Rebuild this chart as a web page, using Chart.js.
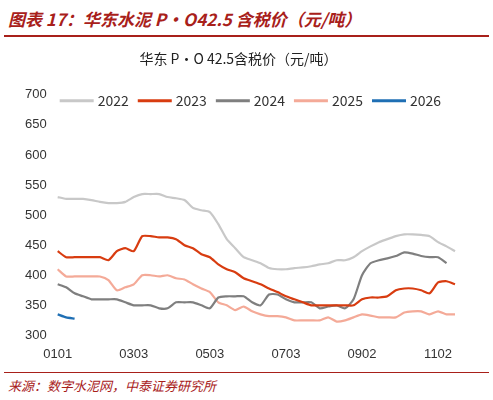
<!DOCTYPE html>
<html><head><meta charset="utf-8">
<script src="https://cdn.jsdelivr.net/npm/chart.js@4"></script>
<style>
body{margin:0;width:493px;height:400px;background:#fff;font-family:"Noto Sans CJK SC",sans-serif;position:relative;overflow:hidden}
#hd{position:absolute;left:8px;top:6px;color:#a8201a;font-size:17px;font-weight:bold;font-style:italic}
#l1{position:absolute;left:4px;right:4px;top:35px;border-top:2px solid #a8201a}
#cw{position:absolute;left:0;top:40px;width:493px;height:325px}
#l2{position:absolute;left:4px;right:4px;top:372px;border-top:1px solid #a8201a}
#src{position:absolute;left:8px;top:376px;color:#a8201a;font-size:13px;font-style:italic}
</style></head><body>
<div id="hd">图表 17：华东水泥 P·O42.5 含税价（元/吨）</div>
<div id="l1"></div>
<div id="cw"><canvas id="c"></canvas></div>
<div id="l2"></div>
<div id="src">来源：数字水泥网，中泰证券研究所</div>
<script>
const tickLabels={0:"0101",9:"0303",18:"0503",27:"0703",36:"0902",45:"1102"};
const categories=Array.from({length:48},(_,i)=>String(i));
const s2022=[530,527,527,527,525,522,520,520,522,530,535,535,535,530,528,525,512,508,505,485,460,445,430,425,420,412,410,410,412,413,415,418,420,425,425,430,440,448,455,460,465,468,468,467,465,455,448,440];
const s2023=[440,430,430,430,430,430,425,440,445,440,465,465,463,463,460,450,445,435,430,418,410,405,395,390,385,378,372,365,360,355,350,350,350,350,350,350,360,363,363,365,375,378,378,375,370,388,390,385];
const s2024=[385,380,370,365,360,360,360,360,355,350,350,350,345,345,355,355,355,350,345,363,365,365,365,355,350,368,368,360,355,355,355,345,348,350,345,360,400,420,425,428,432,438,436,432,430,430,420,null];
const s2025=[410,398,398,398,398,398,392,375,380,385,400,400,398,400,395,393,385,378,372,355,350,342,348,340,335,332,332,330,325,325,325,325,330,323,325,330,335,333,330,330,330,338,340,340,335,340,335,335];
const s2026=[335,330,328];
const mk=(l,d,c)=>({label:l,data:d,borderColor:c,backgroundColor:c,borderWidth:2.2,pointRadius:0,tension:0.2,spanGaps:false});
const legendPlugin={id:'inlegend',afterDraw(ch){const ctx=ch.ctx,a=ch.chartArea;ctx.save();ctx.font='14px "Noto Sans CJK SC"';ctx.textBaseline='middle';let x=a.left+2;const y=a.top+6;
ch.data.datasets.forEach(d=>{ctx.strokeStyle=d.borderColor;ctx.lineWidth=3;ctx.beginPath();ctx.moveTo(x,y);ctx.lineTo(x+34,y);ctx.stroke();x+=38;ctx.fillStyle='#333';ctx.fillText(d.label,x,y);x+=ctx.measureText(d.label).width+9;});ctx.restore();}};
new Chart(document.getElementById('c'),{type:'line',
data:{labels:categories,datasets:[mk('2022',s2022,'#c8c8c8'),mk('2023',s2023,'#d83c10'),mk('2024',s2024,'#7f7f7f'),mk('2025',s2025,'#f4aa98'),mk('2026',s2026,'#1f6fb4')]},
options:{responsive:true,maintainAspectRatio:false,animation:false,
layout:{padding:{left:22,right:38,top:0,bottom:0}},
plugins:{title:{display:true,text:'华东 P·O 42.5含税价（元/吨）',font:{size:14,weight:'normal',family:'Noto Sans CJK SC'},color:'#222',padding:{top:10,bottom:28}},
legend:{display:false}},
scales:{x:{grid:{display:false},border:{display:false},ticks:{autoSkip:false,maxRotation:0,color:'#333',font:{size:13},callback:(v,i)=>tickLabels[i]??null}},
y:{min:300,max:700,grid:{display:false},border:{display:false},ticks:{stepSize:50,color:'#333',font:{size:13}}}}},
plugins:[legendPlugin]
});
</script></body></html>
